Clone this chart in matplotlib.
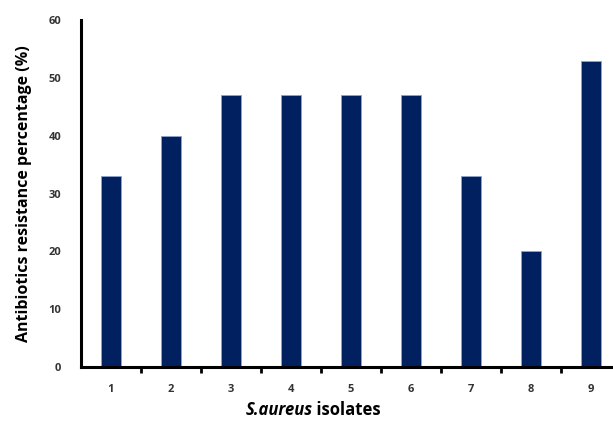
import numpy as np
import matplotlib
matplotlib.use('Agg')
import matplotlib.pyplot as plt

isolates = ['1', '2', '3', '4', '5', '6', '7', '8', '9']
resistance = [33, 40, 47, 47, 47, 47, 33, 20, 53]
y_ticks = [0, 10, 20, 30, 40, 50, 60]

plt.rcParams['font.family'] = ['Open Sans', 'DejaVu Sans']

fig = plt.figure(figsize=(6.13, 4.28), dpi=100)
ax = fig.add_axes([0.132, 0.1425, 0.881, 0.8105])

x = np.arange(1, len(isolates) + 1)
ax.bar(x, resistance, width=0.32, color='#002060', edgecolor='#8fa3cc', linewidth=0.6)

ax.set_xlim(0.5, 9.5)
ax.set_ylim(0, 60)
ax.set_yticks(y_ticks)
ax.set_yticklabels([str(t) for t in y_ticks], fontsize=8, fontweight='bold', color='#333333')
ax.set_xticks(x)
ax.set_xticklabels(isolates, fontsize=8, fontweight='bold', color='#333333')
ax.tick_params(axis='x', length=0, pad=12)
ax.tick_params(axis='y', length=0, pad=14)
# minor ticks between categories, Excel style
ax.set_xticks(np.arange(1.5, 9.5, 1), minor=True)
ax.tick_params(axis='x', which='minor', length=4, width=2, direction='out')

for s in ['top', 'right']:
    ax.spines[s].set_visible(False)
ax.spines['left'].set_linewidth(2.2)
ax.spines['bottom'].set_linewidth(2.2)

ax.set_ylabel('Antibiotics resistance percentage (%)', fontsize=11.5, fontweight='bold', labelpad=12)

# x label: italic species name followed by upright word
t1 = fig.text(0.40, 0.03, 'S.aureus', fontsize=12, fontweight='bold', fontstyle='italic', va='baseline')
ax.annotate(' isolates', xy=(1, 0), xycoords=t1, va='bottom',
            fontsize=12, fontweight='bold', annotation_clip=False)

fig.savefig('out.png', dpi=100)
